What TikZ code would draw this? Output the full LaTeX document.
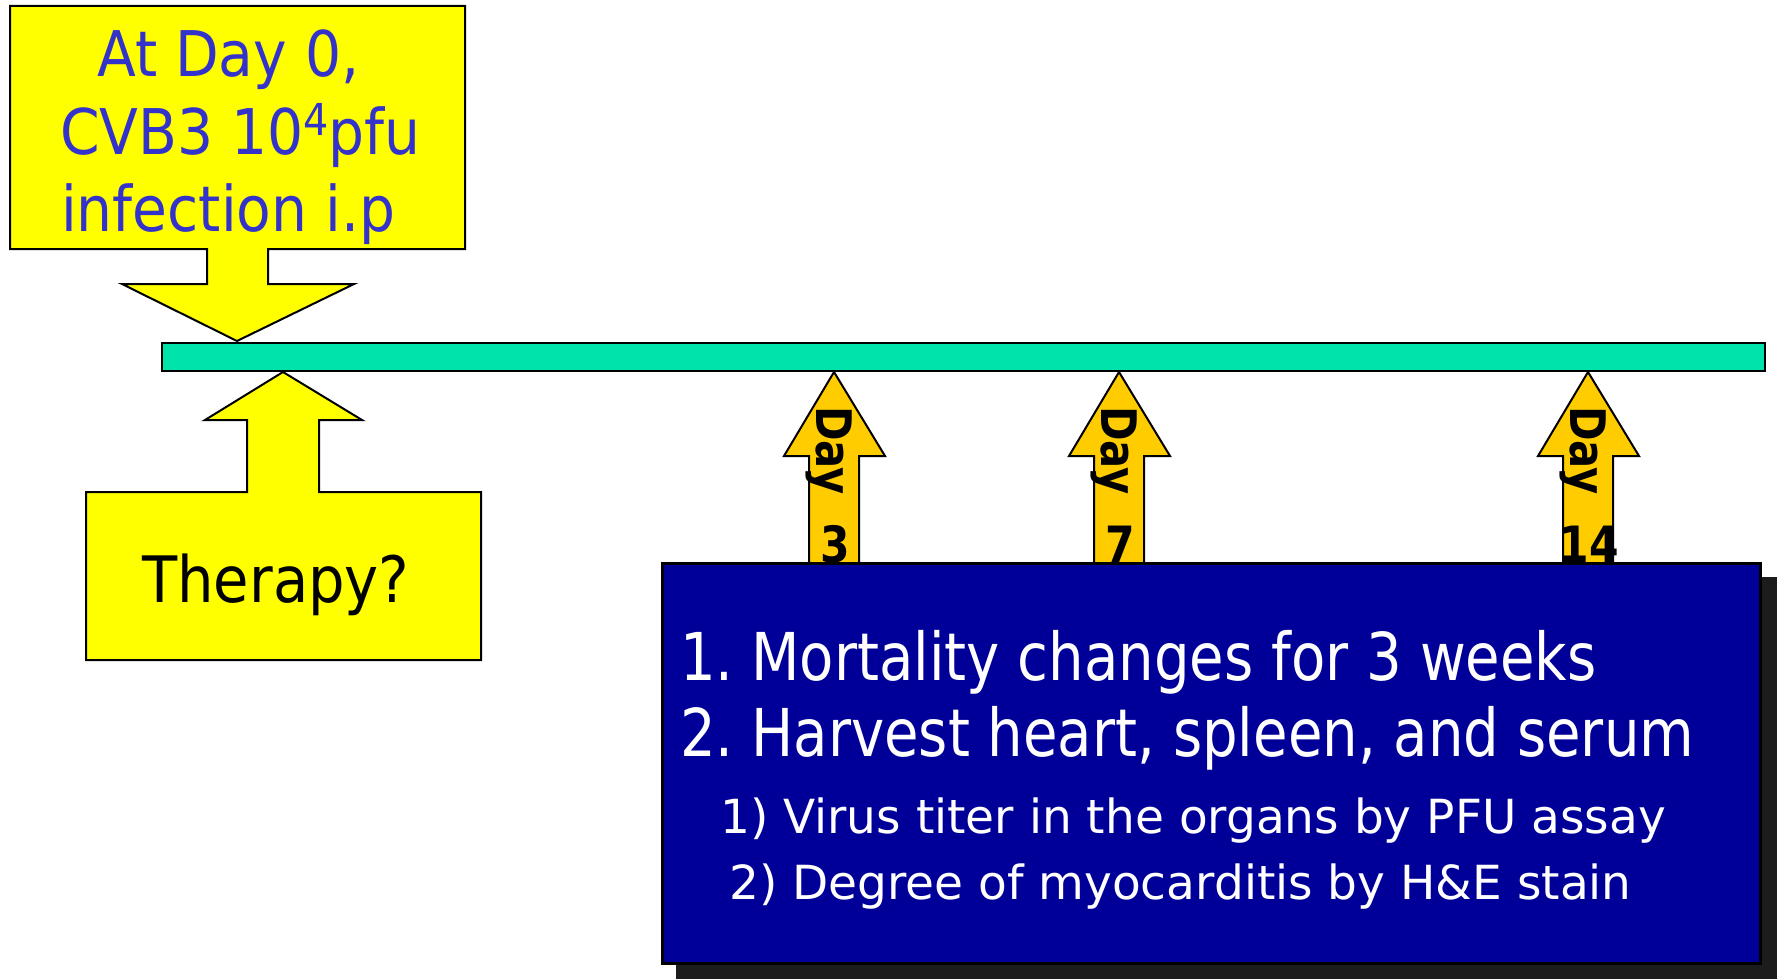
\documentclass[tikz,border=0pt]{standalone}
\usepackage{fontspec}
\setmainfont{DejaVu Sans}[FakeStretch=0.85]
\newfontfamily\calloutfont{DejaVu Sans}[FakeStretch=0.9]
\newfontfamily\plainfont{DejaVu Sans}
\definecolor{calloutyellow}{HTML}{FFFF00}
\definecolor{dayorange}{HTML}{FFCC00}
\definecolor{timelinegreen}{HTML}{00E3AA}
\definecolor{panelblue}{HTML}{000099}
\definecolor{shadowgray}{HTML}{1C1C1C}
\definecolor{infoblue}{HTML}{3333CC}
\frenchspacing
\begin{document}
\begin{tikzpicture}[x=1pt,y=-1pt,
  outlined/.style={draw=black,line width=2pt,line join=miter},
  callout/.style={outlined,fill=calloutyellow},
  dayarrow/.style={outlined,fill=dayorange},
  infotext/.style={anchor=base west,inner sep=0pt,text=infoblue,font=\calloutfont\fontsize{63}{77}\selectfont},
  daylabel/.style={anchor=base west,inner sep=0pt,rotate=-90,font=\bfseries\fontsize{49}{59}\selectfont},
  daynumber/.style={anchor=base,inner sep=0pt,font=\bfseries\fontsize{50}{60}\selectfont},
  bigitem/.style={anchor=base west,inner sep=0pt,text=white,font=\fontsize{66}{79}\selectfont},
  smallitem/.style={anchor=base west,inner sep=0pt,text=white,font=\plainfont\fontsize{47}{57}\selectfont}]
\useasboundingbox (0,0) rectangle (1777,979);

% time line
\draw[outlined,fill=timelinegreen] (162,343) rectangle (1765,371);

% infection callout pointing down to day 0
\draw[callout] (10,6) -- (465,6) -- (465,249) -- (268,249) -- (268,284) -- (354,284)
  -- (237,341) -- (122,284) -- (207,284) -- (207,249) -- (10,249) -- cycle;
\node[infotext] (inf1) at (97,77) {At Day 0,};
\node[infotext] (inf2) at (60,154) {CVB3 10\raisebox{19pt}{\fontsize{44}{44}\selectfont 4}pfu};
\node[infotext] (inf3) at (61,231) {infection i.p};

% therapy callout pointing up to the time line
\draw[callout] (86,660) -- (86,492) -- (247,492) -- (247,420) -- (205,420) -- (283,372)
  -- (362,420) -- (319,420) -- (319,492) -- (481,492) -- (481,660) -- cycle;
\node[anchor=base west,inner sep=0pt,font=\calloutfont\fontsize{64}{77}\selectfont] (therapy) at (142,602) {Therapy?};

% sampling days: rotated word, upright day number
\foreach \cx/\lbl/\nm in {834/3/dayA, 1119/7/dayB, 1588/14/dayC} {
  \draw[dayarrow] (\cx,372) -- (\cx+51,456) -- (\cx+25,456) -- (\cx+25,580)
    -- (\cx-25,580) -- (\cx-25,456) -- (\cx-50,456) -- cycle;
  \node[daylabel] (\nm) at (\cx-18,406) {Day};
  \node[daynumber] (\nm-num) at (\cx+1,562) {\lbl};
}

% result panel with drop shadow
\fill[shadowgray] (676,577) rectangle (1777,979);
\draw[fill=panelblue,draw=black,line width=3pt] (662,563) rectangle (1760,963);
\node[bigitem] (item1) at (680,680) {1. Mortality changes for 3 weeks};
\node[bigitem] (item2) at (680,756) {2. Harvest heart, spleen, and serum};
\node[smallitem] (sub1) at (720,833) {1) Virus titer in the organs by PFU assay};
\node[smallitem] (sub2) at (729,899) {2) Degree of myocarditis by H\&E stain};
\end{tikzpicture}
\end{document}
